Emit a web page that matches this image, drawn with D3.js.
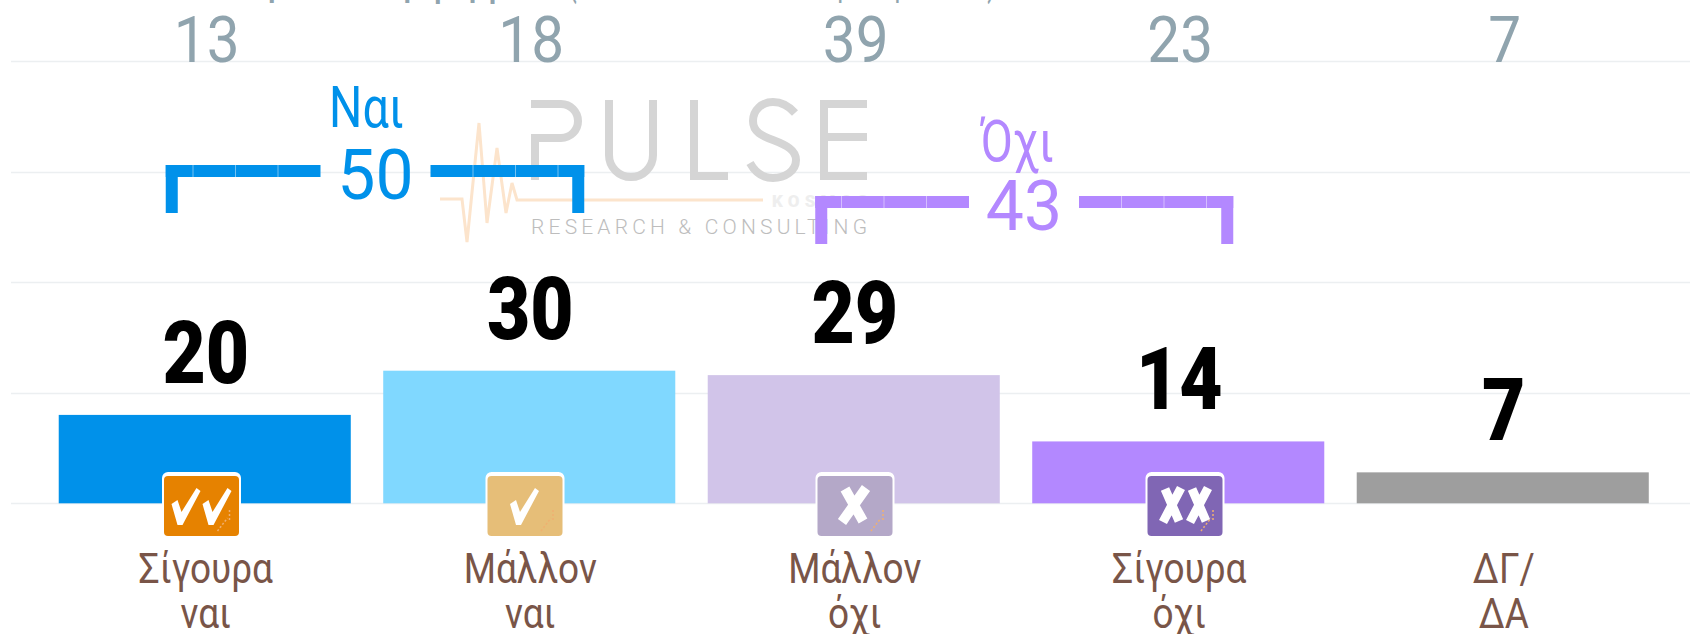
<!DOCTYPE html>
<html><head><meta charset="utf-8">
<script src="https://cdn.jsdelivr.net/npm/d3@7/dist/d3.min.js"></script>
<style>html,body{margin:0;padding:0;background:#fff}svg{display:block}text{font-family:Roboto,sans-serif}</style>
</head><body><svg id="c" width="1690" height="634"></svg>
<script>
const labelLine1=["Σίγουρα","Μάλλον","Μάλλον","Σίγουρα","ΔΓ/"];
const labelLine2=["ναι","ναι","όχι","όχι","ΔΑ"];
const values=[20,30,29,14,7];
const previous=[13,18,39,23,7];
const barColors=["#0091EA","#80D8FF","#D1C4E9","#B388FF","#9E9E9E"];
const iconColors=["#E68200","#E6BE78","#B4A8C8","#8066B4",null];
const iconGlyphs=["vv","v","x","xx",null];
const iconCenters=[201.5,525,855,1185,null];
const gridTicks=[0,25,50,75,100];
const groupLabels=["Ναι","Όχι"];
const groupTotals=[50,43];
const groupColors=["#0091EA","#B388FF"];
const W=1690;
const svg=d3.select("#c");
const x=d3.scaleBand().domain(d3.range(5)).range([42.5,1665]).paddingInner(0.1).paddingOuter(0.05);
const y=d3.scaleLinear().domain([0,100]).range([503.3,61.3]);
function cond(sel,px,py,sx){return sel.attr("transform",`translate(${px},${py}) scale(${sx},1)`).attr("text-anchor","middle");}

svg.append("g").selectAll("line").data(gridTicks).join("line")
 .attr("x1",11).attr("x2",W).attr("y1",d=>Math.round(y(d))+.5).attr("y2",d=>Math.round(y(d))+.5)
 .attr("stroke","#ECEFF1").attr("stroke-width",1.4);

// title, cut by the top edge
[["Πρόθεση ψήφου",236,320],["(επί του συνόλου των ερωτηθέντων)",568,428]].forEach(([t,a,l])=>{
 svg.append("text").text(t).attr("x",a).attr("y",-6).attr("font-size",44).attr("fill","#90A4AE")
  .attr("textLength",l).attr("lengthAdjust","spacingAndGlyphs");
});

// watermark
const wm=svg.append("g").attr("fill","none").attr("stroke","#D5D5D5").attr("stroke-width",8);
["M531 104H561A17 17 0 0 1 561 138H535M535 134V180",
 "M609 100V155A22 22 0 0 0 653 155V100",
 "M694 100V176H728",
 "M795 113C788 105 781 102 773 102C762 102 753 110 753 121C753 132 762 136 773 140C786 145 796 150 796 160C796 171 785 178 773 178C763 178 755 172 750 163",
 "M867 104H824V176H867M824 137H867"].forEach(d=>wm.append("path").attr("d",d));
svg.append("path").attr("d","M440 199H462L467 242L479 123L487 223L497 148L506 213L512 183L517 200H763").attr("fill","none").attr("stroke","#FCE4CC").attr("stroke-width",3);
svg.append("text").text("RESEARCH & CONSULTING").attr("x",531).attr("y",234).attr("font-size",21).attr("font-weight",300).attr("fill","#BDBDBD").attr("textLength",336);
svg.append("text").text("KOSMOS").attr("x",772).attr("y",207).attr("font-size",17).attr("font-weight",900).attr("fill","#EEEEEE").attr("textLength",96);

// bars
svg.append("g").selectAll("rect").data(values).join("rect")
 .attr("x",(d,i)=>x(i)).attr("width",x.bandwidth()).attr("y",d=>y(d)).attr("height",d=>y(0)-y(d))
 .attr("fill",(d,i)=>barColors[i]);

// previous values
previous.forEach((v,i)=>cond(svg.append("text").text(v).attr("font-size",65).attr("fill","#90A4AE"),x(i)+x.bandwidth()/2+2,62,.9));

// value labels
values.forEach((v,i)=>cond(svg.append("text").text(v).attr("font-size",88).attr("font-weight",900).attr("fill","#000"),x(i)+x.bandwidth()/2+1,y(v)-32,.85));

// category labels
labelLine1.forEach((t,i)=>{
 const cx=x(i)+x.bandwidth()/2+1;
 cond(svg.append("text").text(t).attr("font-size",42).attr("fill","#795548"),cx,583,.88);
 cond(svg.append("text").text(labelLine2[i]).attr("font-size",42).attr("fill","#795548"),cx,628,.88);
});

// icons
iconGlyphs.forEach((g,i)=>{
 if(!g) return;
 const c=svg.append("g").attr("transform",`translate(${iconCenters[i]},0)`);
 c.append("rect").attr("x",-39.5).attr("y",472).attr("width",79).attr("height",66).attr("rx",6).attr("fill","#fff");
 c.append("rect").attr("x",-37.5).attr("y",476).attr("width",75).attr("height",60).attr("rx",4).attr("fill",iconColors[i]);
 const off=g==="vv"?[-16,15]:g==="xx"?[-13,14]:[-1];
 off.forEach(o=>{
  if(g[0]==="v") c.append("path").attr("d","M-14 -2L-8 -6L-4 6L11 -18L15 -15L-3 19L-8 19Z").attr("transform",`translate(${o},506)`).attr("fill","#fff");
  else c.append("path").attr("d",g==="x"?"M-9 -16L9 16M12 -17L-12 17":"M-7 -16L7 16M9 -17L-9 17").attr("transform",`translate(${o},505)`).attr("fill","none").attr("stroke","#fff").attr("stroke-width",g==="x"?10:9);
 });
 c.append("path").attr("d","M16 531L26 518M28 510V521").attr("stroke","#F0B070").attr("stroke-width",1.5).attr("stroke-dasharray","2 2").attr("fill","none");
});

// brackets
const bracketFrom=[0,2], bracketTo=[1,3];
groupLabels.forEach((label,k)=>{
 const color=groupColors[k];
 const l=x(bracketFrom[k])+x.bandwidth()/2-(k?38.5:39);
 const r=x(bracketTo[k])+x.bandwidth()/2+55;
 const t=k?196:165;
 const mid=k?1024:375.5;
 const g0=mid-55,g1=mid+55;
 const s=svg.append("g").attr("fill",color);
 s.append("rect").attr("x",l).attr("y",t).attr("width",g0-l).attr("height",12);
 s.append("rect").attr("x",g1).attr("y",t).attr("width",r-g1).attr("height",12);
 s.append("rect").attr("x",l).attr("y",t).attr("width",12).attr("height",48);
 s.append("rect").attr("x",r-12).attr("y",t).attr("width",12).attr("height",48);
 const dividers=[...d3.range(g0-42.5,l+12,-42.5),...d3.range(g1+42.5,r-12,42.5)];
 svg.append("g").selectAll("line").data(dividers).join("line")
  .attr("x1",d=>d).attr("x2",d=>d).attr("y1",t).attr("y2",t+12)
  .attr("stroke","#fff").attr("stroke-opacity",.45).attr("stroke-width",1);
 cond(svg.append("text").text(label).attr("font-size",57).attr("fill",color),k?1017:366.5,k?161:127,.82);
 cond(svg.append("text").text(groupTotals[k]).attr("font-size",70).attr("fill",color),k?1024:375.5,t+34,.97);
});
</script></body></html>
